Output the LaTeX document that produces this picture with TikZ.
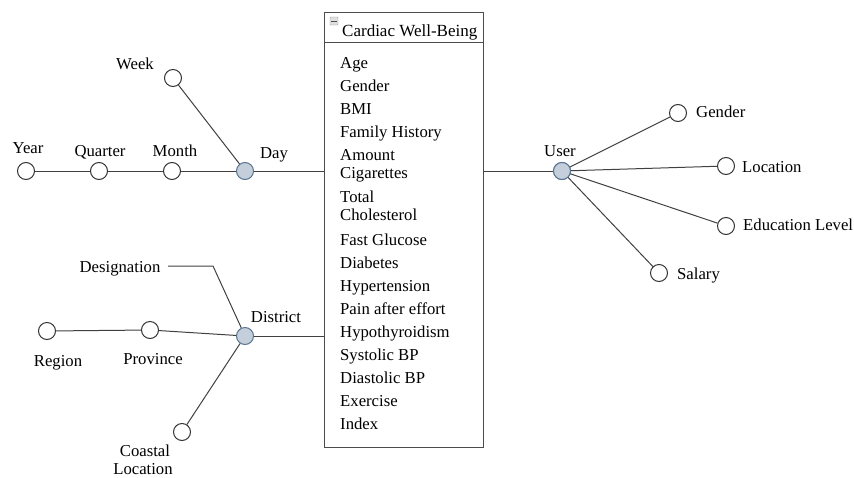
\documentclass[tikz,border=0pt]{standalone}
\usepackage{fontspec}
\setmainfont{Liberation Serif}
\definecolor{hubfill}{RGB}{196,207,219}
\definecolor{hubdraw}{RGB}{88,115,145}
\begin{document}
\begin{tikzpicture}[x=1pt,y=-1pt,
  lbl/.style={font=\fontsize{16.7}{19}\selectfont, inner sep=0pt, text height=14pt, text depth=2pt},
  dot/.style={circle, draw=black!80, line width=1pt, minimum size=17pt, inner sep=0pt, fill=white},
  hub/.style={circle, draw=hubdraw, line width=1pt, minimum size=17pt, inner sep=0pt, fill=hubfill},
  conn/.style={draw=black!75, line width=1pt},
  item/.style={font=\fontsize{16.7}{18}\selectfont, inner sep=0pt, anchor=west, text height=14pt, text depth=2pt}]
\useasboundingbox (0,0) rectangle (854,477);
% fact table box
\draw[line width=1pt, black!70] (324,12) rectangle (483,447);
\draw[line width=1pt, black!70] (324,42) -- (483,42);
\node[draw=gray!80, fill=gray!25, minimum size=8pt, inner sep=0pt, rounded corners=0.5pt] (icon) at (334,21) {};
\draw[black!70, line width=0.8pt] (331,21) -- (337,21);
\node[lbl, anchor=west, font=\fontsize{17}{19}\selectfont] (title) at (342,30) {Cardiac Well-Being};
\node[item] (i1) at (340,62) {Age};
\node[item] (i2) at (340,85) {Gender};
\node[item] (i3) at (340,108) {BMI};
\node[item] (i4) at (340,131) {Family History};
\node[item] (i5) at (340,154) {Amount};
\node[item] (i5b) at (340,172) {Cigarettes};
\node[item] (i6) at (340,196) {Total};
\node[item] (i6b) at (340,214) {Cholesterol};
\node[item] (i7) at (340,239) {Fast Glucose};
\node[item] (i8) at (340,262) {Diabetes};
\node[item] (i9) at (340,285) {Hypertension};
\node[item] (i10) at (340,308) {Pain after effort};
\node[item] (i11) at (340,331) {Hypothyroidism};
\node[item] (i12) at (340,354) {Systolic BP};
\node[item] (i13) at (340,377) {Diastolic BP};
\node[item] (i14) at (340,400) {Exercise};
\node[item] (i15) at (340,423) {Index};
\coordinate (boxL1) at (324,171);
\coordinate (boxL2) at (324,336);
\coordinate (boxR1) at (483,171);
% time dimension
\node[dot] (year) at (26,171) {};
\node[dot] (quarter) at (99,171) {};
\node[dot] (month) at (172,171) {};
\node[hub] (day) at (245,171) {};
\node[dot] (week) at (173,78) {};
\node[lbl] (lyear) at (28,147) {Year};
\node[lbl] (lquarter) at (100,150) {Quarter};
\node[lbl] (lmonth) at (175,150) {Month};
\node[lbl] (lday) at (274,152) {Day};
\node[lbl] (lweek) at (135,63) {Week};
\draw[conn] (year) -- (quarter);
\draw[conn] (quarter) -- (month);
\draw[conn] (month) -- (day);
\draw[conn] (week) -- (day);
\draw[conn] (day) -- (boxL1);
% location dimension
\node[dot] (region) at (47,331) {};
\node[dot] (province) at (150,330) {};
\node[hub] (district) at (245,336) {};
\node[dot] (coastal) at (182,432) {};
\node[lbl] (ldesig) at (120,266) {Designation};
\coordinate (dA) at (168,266);
\coordinate (dB) at (213,266);
\node[lbl] (lregion) at (58,360) {Region};
\node[lbl] (lprovince) at (153,358) {Province};
\node[lbl] (ldistrict) at (276,316) {District};
\node[lbl] (lcoastal) at (145,450) {Coastal};
\node[lbl] (lcoastal2) at (143,468) {Location};
\draw[conn] (region) -- (province);
\draw[conn] (province) -- (district);
\draw[conn] (dA) -- (dB) -- (district);
\draw[conn] (coastal) -- (district);
\draw[conn] (district) -- (boxL2);
% user dimension
\node[hub] (user) at (562,171) {};
\node[dot] (gender) at (678,113) {};
\node[dot] (location) at (726,166) {};
\node[dot] (edu) at (726,226) {};
\node[dot] (salary) at (659,273) {};
\node[lbl] (luser) at (560,150) {User};
\node[lbl, anchor=west] (lgender) at (696,111) {Gender};
\node[lbl, anchor=west] (llocation) at (742,166) {Location};
\node[lbl, anchor=west] (ledu) at (743,224) {Education Level};
\node[lbl, anchor=west] (lsalary) at (677,273) {Salary};
\draw[conn] (boxR1) -- (user);
\draw[conn] (user.center) -- (gender);
\draw[conn] (user.center) -- (location);
\draw[conn] (user.center) -- (edu);
\draw[conn] (user.center) -- (salary);
\node[hub] (userfront) at (user) {};
\end{tikzpicture}
\end{document}
